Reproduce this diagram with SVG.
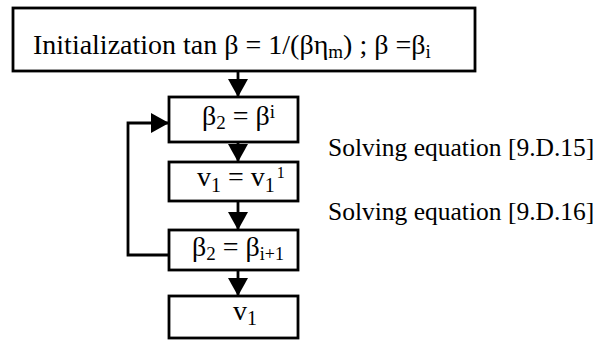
<svg xmlns="http://www.w3.org/2000/svg" width="596" height="340" viewBox="0 0 596 340">
<style>
.box{fill:#fff;stroke:#000;stroke-width:2.8}
.t{font-family:"Liberation Serif","Times New Roman",serif;fill:#000}
.c{fill:none;stroke:#000;stroke-width:2.8}
</style>
<defs>
<marker id="ah" markerUnits="userSpaceOnUse" markerWidth="18" markerHeight="20" refX="18" refY="10" orient="auto">
<path d="M0,0 L18,10 L0,20 z" fill="#000"/>
</marker>
</defs>
<rect width="596" height="340" fill="#fff"/>
<g id="connectors">
<line class="c" x1="238" y1="71" x2="238" y2="97" marker-end="url(#ah)"/>
<line class="c" x1="238" y1="142" x2="238" y2="162" marker-end="url(#ah)"/>
<line class="c" x1="238" y1="201" x2="238" y2="230" marker-end="url(#ah)"/>
<line class="c" x1="238" y1="270" x2="238" y2="296" marker-end="url(#ah)"/>
<polyline class="c" points="169,255 128,255 128,123 169,123" marker-end="url(#ah)"/>
</g>
<g id="init">
<rect class="box" x="13" y="8" width="462" height="63"/>
<text class="t" x="33" y="54" font-size="28">Initialization tan β = 1/(βη<tspan font-size="19" dy="4">m</tspan><tspan dy="-4">) ; β =β</tspan><tspan font-size="19" dy="4">i</tspan></text>
</g>
<g id="beta2-init">
<rect class="box" x="169" y="97" width="129" height="45"/>
<text class="t" x="202" y="125" font-size="28">β<tspan font-size="19" dy="4">2</tspan><tspan dy="-4"> = β</tspan><tspan font-size="19" dy="-7">i</tspan></text>
</g>
<g id="v1-init">
<rect class="box" x="169" y="162" width="129" height="39"/>
<text class="t" x="197" y="186" font-size="28">v<tspan font-size="20" dy="6">1</tspan><tspan dy="-6"> = v</tspan><tspan font-size="20" dy="6">1</tspan><tspan font-size="16" dy="-14" dx="2">1</tspan></text>
</g>
<g id="beta2-next">
<rect class="box" x="169" y="230" width="129" height="40"/>
<text class="t" x="192" y="256" font-size="28">β<tspan font-size="19" dy="4">2</tspan><tspan dy="-4"> = β</tspan><tspan font-size="18" dy="4">i+1</tspan></text>
</g>
<g id="v1-result">
<rect class="box" x="169" y="296" width="129" height="42"/>
<text class="t" x="233" y="320" font-size="28">v<tspan font-size="20" dy="5">1</tspan></text>
</g>
<g id="labels">
<text class="t" x="328" y="156" font-size="25.5">Solving equation [9.D.15]</text>
<text class="t" x="328" y="220" font-size="25.5">Solving equation [9.D.16]</text>
</g>
</svg>
